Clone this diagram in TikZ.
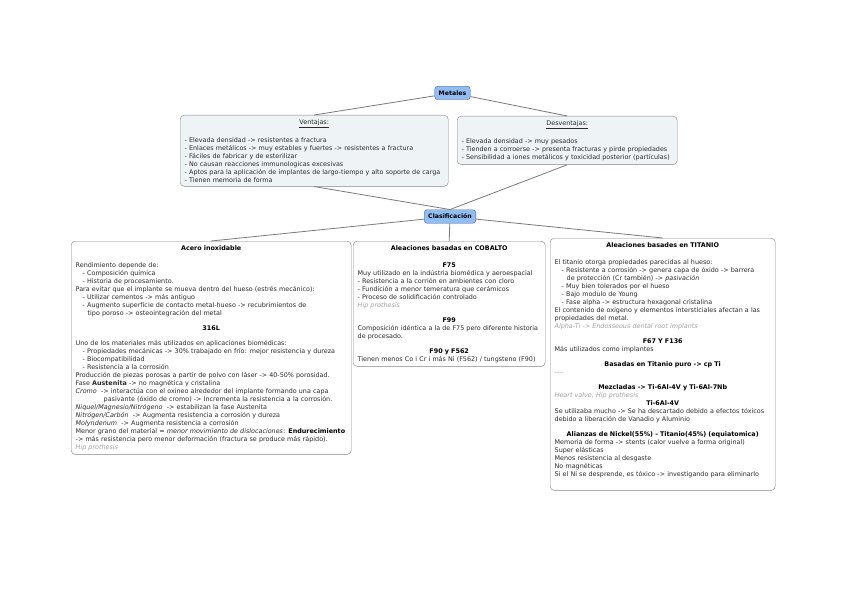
\documentclass[tikz,border=0pt]{standalone}
\usepackage{fontspec}
\setmainfont{DejaVu Sans}
\usetikzlibrary{positioning}

\definecolor{topicfill}{HTML}{92BDF2}
\definecolor{topicline}{HTML}{4A6A96}
\definecolor{boxfill}{HTML}{EEF3F6}
\definecolor{boxline}{HTML}{858585}
\definecolor{linkgrey}{HTML}{7A7A7A}
\definecolor{textgrey}{HTML}{2A2A2A}
\definecolor{notegrey}{HTML}{A0A0A0}

% encabezado centrado y nota en gris
\newcommand\hd[1]{{\centering\bfseries\color{black}#1\par}}
\newcommand\nota[1]{{\color{notegrey}\itshape #1}}
\newcommand\gp{\vspace{7pt}}

\begin{document}
\begin{tikzpicture}[x=1pt,y=-1pt,
        topic/.style = {
            draw=topicline,
            fill=topicfill,
            rounded corners=3pt,
            inner xsep=4pt,
            minimum height=13.5pt,
            font=\fontsize{6.2}{7}\selectfont\bfseries
        },
        box/.style = {
            draw=boxline,
            rounded corners=4pt,
            anchor=north west,
            align=left,
            inner xsep=4.5pt,
            inner ysep=4pt,
            text=textgrey,
            execute at begin node=\vspace*{2pt},
            font=\fontsize{6.4}{8}\selectfont
        },
        link/.style = {draw=linkgrey, line width=0.8pt}]

        \useasboundingbox (0,0) rectangle (848,599);

        \node[topic] (met) at (452.5,93) {Metales};
        \node[topic] (clas) at (450,216.5) {Clasificación};

        \node[box, fill=boxfill, text width=259pt] (vent) at (180,115) {%
            {\centering\underline{Ventajas:}\par}\gp
            - Elevada densidad -> resistentes a fractura\\
            - Enlaces metálicos -> muy estables y fuertes -> resistentes a fractura\\
            - Fáciles de fabricar y de esterilizar\\
            - No causan reacciones immunologicas excesivas\\
            - Aptos para la aplicación de implantes de largo-tiempo y alto soporte de carga\\
            - Tienen memoria de forma};

        \node[box, fill=boxfill, text width=211pt] (desv) at (457,116) {%
            {\centering\underline{Desventajas:}\par}\gp
            - Elevada densidad -> muy pesados\\
            - Tienden a corroerse -> presenta fracturas y pirde propiedades\\
            - Sensibilidad a iones metálicos y toxicidad posterior (partículas)};

        \node[box, fill=white, text width=271pt] (acero) at (71,241) {%
            \hd{Acero inoxidable}\gp
            Rendimiento depende de:\\
            \hspace*{7pt}- Composición química\\
            \hspace*{7pt}- Historia de procesamiento.\\
            Para evitar que el implante se mueva dentro del hueso (estrés mecánico):\\
            \hspace*{7pt}- Utilizar cementos -> más antiguo\\
            \hspace*{7pt}- Augmento superfície de contacto metal-hueso -> recubrimientos de\\
            \hspace*{12pt}tipo poroso -> osteointegración del metal\par\gp
            \hd{316L}\gp
            Uno de los materiales más utilizados en aplicaciones biomédicas:\\
            \hspace*{7pt}- Propiedades mecánicas -> 30\% trabajado en frío: mejor resistencia y dureza\\
            \hspace*{7pt}- Biocompatibilidad\\
            \hspace*{7pt}- Resistencia a la corrosión\\
            Producción de piezas porosas a partir de polvo con láser -> 40-50\% porosidad.\\
            Fase \textbf{Austenita} -> no magnética y cristalina\\
            \textit{Cromo} ~-> interactúa con el oxineo alrededor del implante formando una capa\\
            \hspace*{28pt}pasivante (óxido de cromo) -> Incrementa la resistencia a la corrosión.\\
            \textit{Niquel/Magnesio/Nitrógeno} ~-> estabilizan la fase Austenita\\
            \textit{Nitrógen/Carbón} ~-> Augmenta resistencia a corrosión y dureza\\
            \textit{Molyndenum} ~-> Augmenta resistencia a corrosión\\
            Menor grano del material = \textit{menor movimiento de dislocaciones}: \textbf{\color{black}Endurecimiento}\\
            -> más resistencia pero menor deformación (fractura se produce más rápido).\\
            \nota{Hip prothesis}};

        \node[box, fill=white, text width=183pt] (cob) at (353,241) {%
            \hd{Aleaciones basadas en COBALTO}\gp
            \hd{F75}
            Muy utilizado en la indústria biomédica y aeroespacial\\
            - Resistencia a la corrión en ambientes con cloro\\
            - Fundición a menor temeratura que cerámicos\\
            - Proceso de solidificación controlado\\
            \nota{Hip prothesis}\par\gp
            \hd{F99}
            Composición idéntica a la de F75 pero diferente historia\\
            de procesado.\par\gp
            \hd{F90 y F562}
            Tienen menos Co i Cr i más Ni (F562) / tungsteno (F90)};

        \node[box, fill=white, text width=216pt] (tit) at (550,238) {%
            \hd{Aleaciones basades en TITANIO}\gp
            El titanio otorga propiedades parecidas al hueso:\\
            \hspace*{7pt}- Resistente a corrosión -> genera capa de óxido -> barrera\\
            \hspace*{12pt}de protección (Cr también) -> \textit{pasivación}\\
            \hspace*{7pt}- Muy bien tolerados por el hueso\\
            \hspace*{7pt}- Bajo modulo de Young\\
            \hspace*{7pt}- Fase alpha -> estructura hexagonal cristalina\\
            El contenido de oxígeno y elementos intersticiales afectan a las\\
            propiedades del metal.\\
            {\color{notegrey}\textit{Alpha-Ti} -> \textit{Endosseous dental root implants}}\par\gp
            \hd{F67 Y F136}
            Más utilizados como implantes\par\gp
            \hd{Basadas en Titanio puro -> cp Ti}
            {\color{notegrey}-{}-{}-{}-}\par\gp
            \hd{Mezcladas -> Ti-6Al-4V y Ti-6Al-7Nb}
            \nota{Heart valve, Hip prothesis}\par
            \hd{Ti-6Al-4V}
            Se utilizaba mucho -> Se ha descartado debido a efectos tóxicos\\
            debido a liberación de Vanadio y Aluminio\par\gp
            \hd{Alianzas de Nickel(55\%) - Titanio(45\%) (equiatomica)}
            Memoria de forma -> stents (calor vuelve a forma original)\\
            Super elásticas\\
            Menos resistencia al desgaste\\
            No magnéticas\\
            Si el Ni se desprende, es tóxico -> investigando para eliminarlo\par
            \rule{0pt}{8pt}};

        \draw[link] (met) -- (vent.north);
        \draw[link] (met) -- (desv.north);
        \draw[link] (vent.south) -- (clas.north);
        \draw[link] (desv.south) -- (clas.north);
        \draw[link] (clas) -- (acero.north);
        \draw[link] (clas) -- (cob.north);
        \draw[link] (clas) -- (tit.north);
    \end{tikzpicture}
\end{document}
